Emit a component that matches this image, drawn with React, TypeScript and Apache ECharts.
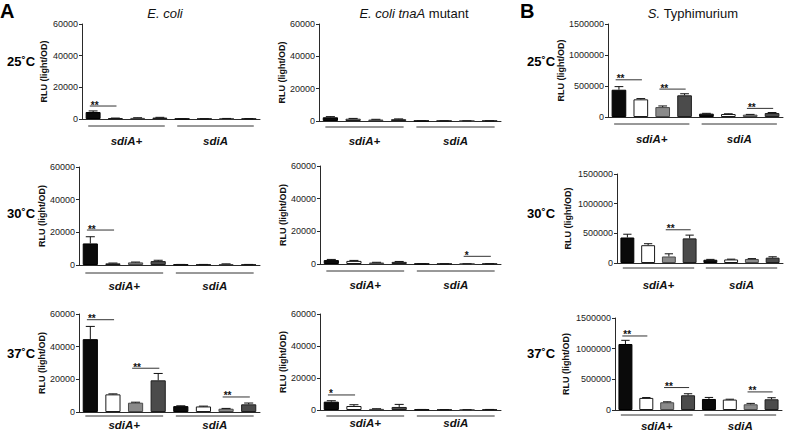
import React, { useEffect, useRef } from 'react';
import * as echarts from 'echarts';

// ---------- data ----------
const categories = ['sdiA+ 1', 'sdiA+ 2', 'sdiA+ 3', 'sdiA+ 4', 'sdiA 1', 'sdiA 2', 'sdiA 3', 'sdiA 4'];
const groupLabels = ['sdiA+', 'sdiA'];
const groupRanges = [[0, 3], [4, 7]];
const tempLabels = ['25˚C', '30˚C', '37˚C'];
const yAxisTitle = 'RLU (light/OD)';

const ecoliMax = 60000;
const ecoliStep = 20000;
const stMax = 1500000;
const stStep = 500000;

const ecoli25 = [4400, 500, 700, 900, 150, 150, 300, 200];
const ecoli25Err = [700, 100, 100, 150, 50, 50, 50, 50];
const ecoli30 = [13200, 1000, 1600, 2400, 300, 300, 600, 300];
const ecoli30Err = [4100, 200, 200, 500, 50, 50, 100, 50];
const ecoli37 = [44600, 10800, 5700, 19400, 3600, 3400, 2000, 4700];
const ecoli37Err = [7800, 300, 300, 4200, 200, 200, 200, 800];

const tnaA25 = [2300, 1400, 900, 1100, 100, 80, 80, 100];
const tnaA25Err = [400, 200, 150, 200, 30, 30, 30, 30];
const tnaA30 = [2400, 1900, 900, 1300, 150, 100, 100, 150];
const tnaA30Err = [400, 300, 150, 250, 30, 30, 30, 30];
const tnaA37 = [5200, 2500, 700, 1900, 300, 200, 150, 300];
const tnaA37Err = [600, 800, 100, 1600, 50, 50, 50, 50];

const st25 = [440000, 285000, 160000, 350000, 54000, 48000, 38000, 64000];
const st25Err = [50000, 12000, 18000, 25000, 5000, 4000, 4000, 8000];
const st30 = [430000, 300000, 110000, 415000, 55000, 60000, 68000, 90000];
const st30Err = [55000, 25000, 45000, 55000, 6000, 5000, 6000, 15000];
const st37 = [1076000, 197000, 126000, 240000, 180000, 170000, 93000, 175000];
const st37Err = [60000, 6000, 8000, 25000, 25000, 6000, 15000, 25000];

// significance brackets: [fromCategory, toCategory, value]
const ecoli25Sig = [[0, 1, 8200]];
const ecoli25SigText = ['**'];
const ecoli30Sig = [[0, 1, 21400]];
const ecoli30SigText = ['**'];
const ecoli37Sig = [[0, 1, 56500], [2, 3, 26800], [6, 7, 9200]];
const ecoli37SigText = ['**', '**', '**'];
const tnaA25Sig: number[][] = [];
const tnaA25SigText: string[] = [];
const tnaA30Sig = [[6, 7, 4700]];
const tnaA30SigText = ['*'];
const tnaA37Sig = [[0, 1, 9400]];
const tnaA37SigText = ['*'];
const st25Sig = [[0, 1, 600000], [2, 3, 450000], [6, 7, 139000]];
const st25SigText = ['**', '**', '**'];
const st30Sig = [[2, 3, 560000]];
const st30SigText = ['**'];
const st37Sig = [[0, 1, 1207000], [2, 3, 366000], [6, 7, 295000]];
const st37SigText = ['**', '**', '**'];

// ---------- styles / layout ----------
const FONT = '"Liberation Sans", Arial, Helvetica, sans-serif';
const INK = '#111111';
const barStyles = [
  { color: '#0a0a0a', borderColor: '#000000' },
  { color: '#ffffff', borderColor: '#1a1a1a' },
  { color: '#8a8a8a', borderColor: '#4a4a4a' },
  { color: '#4b4b4b', borderColor: '#1e1e1e' },
];

const panels = [
  { v: ecoli25, e: ecoli25Err, s: ecoli25Sig, st: ecoli25SigText, max: ecoliMax, step: ecoliStep, left: 82, width: 178, top: 24, height: 95, gap: 34, lineOff: 7, labelOff: 22 },
  { v: ecoli30, e: ecoli30Err, s: ecoli30Sig, st: ecoli30SigText, max: ecoliMax, step: ecoliStep, left: 79, width: 181, top: 167, height: 98, gap: 32, lineOff: 8, labelOff: 21 },
  { v: ecoli37, e: ecoli37Err, s: ecoli37Sig, st: ecoli37SigText, max: ecoliMax, step: ecoliStep, left: 79, width: 181, top: 314, height: 98, gap: 32, lineOff: 4, labelOff: 13 },
  { v: tnaA25, e: tnaA25Err, s: tnaA25Sig, st: tnaA25SigText, max: ecoliMax, step: ecoliStep, left: 319, width: 182, top: 24, height: 97, gap: 32, lineOff: 6, labelOff: 20 },
  { v: tnaA30, e: tnaA30Err, s: tnaA30Sig, st: tnaA30SigText, max: ecoliMax, step: ecoliStep, left: 320, width: 181, top: 166, height: 98, gap: 33, lineOff: 7, labelOff: 21 },
  { v: tnaA37, e: tnaA37Err, s: tnaA37Sig, st: tnaA37SigText, max: ecoliMax, step: ecoliStep, left: 320, width: 181, top: 314, height: 96, gap: 33, lineOff: 6, labelOff: 13 },
  { v: st25, e: st25Err, s: st25Sig, st: st25SigText, max: stMax, step: stStep, left: 608, width: 175, top: 24, height: 93, gap: 38, lineOff: 7, labelOff: 22 },
  { v: st30, e: st30Err, s: st30Sig, st: st30SigText, max: stMax, step: stStep, left: 617, width: 166, top: 174, height: 89, gap: 45, lineOff: 5, labelOff: 22 },
  { v: st37, e: st37Err, s: st37Sig, st: st37SigText, max: stMax, step: stStep, left: 615, width: 167, top: 318, height: 92, gap: 45, lineOff: 5, labelOff: 16 },
];

function textStyle(extra: any) {
  return { fontFamily: FONT, fill: INK, stroke: 'none', lineWidth: 0, ...extra };
}

function buildOption() {
  const grid: any[] = [];
  const xAxis: any[] = [];
  const yAxis: any[] = [];
  const series: any[] = [];

  panels.forEach((p, k) => {
    grid.push({ left: p.left, top: p.top, width: p.width, height: p.height, containLabel: false });
    xAxis.push({
      type: 'category', gridIndex: k, data: categories,
      axisTick: { show: false }, axisLabel: { show: false },
      axisLine: { lineStyle: { color: '#2a2a2a', width: 1 } },
    });
    yAxis.push({
      type: 'value', gridIndex: k, min: 0, max: p.max, interval: p.step,
      splitLine: { show: false },
      axisLine: { show: true, lineStyle: { color: '#2a2a2a', width: 1 } },
      axisTick: { show: true, length: 3, lineStyle: { color: '#2a2a2a' } },
      axisLabel: { fontSize: 9, color: '#222', fontFamily: FONT, margin: 4, formatter: (val: number) => String(val) },
      name: yAxisTitle, nameLocation: 'middle', nameRotate: 90, nameGap: p.gap,
      nameTextStyle: { fontSize: 9, fontWeight: 'bold', color: INK, fontFamily: FONT },
    });
    // bars
    series.push({
      type: 'bar', xAxisIndex: k, yAxisIndex: k, barWidth: '67%',
      data: p.v.map((val, i) => ({ value: val, itemStyle: { ...barStyles[i % 4], borderWidth: 1 } })),
    });
    // error bars (mean + SEM, upper only)
    series.push({
      type: 'custom', xAxisIndex: k, yAxisIndex: k, clip: false, z: 3, color: INK,
      encode: { x: 0, y: [1, 2] },
      data: p.v.map((val, i) => [i, val, val + p.e[i]]),
      renderItem: (params: any, api: any) => {
        const i = api.value(0);
        const base = api.coord([i, api.value(1)]);
        const top = api.coord([i, api.value(2)]);
        const band = api.size([1, 0])[0];
        const half = band * 0.2;
        return {
          type: 'group',
          children: [
            { type: 'line', shape: { x1: base[0], y1: base[1], x2: top[0], y2: top[1] }, style: { stroke: INK, lineWidth: 1 } },
            { type: 'line', shape: { x1: top[0] - half, y1: top[1], x2: top[0] + half, y2: top[1] }, style: { stroke: INK, lineWidth: 1 } },
          ],
        };
      },
    });
    // significance brackets
    if (p.s.length) {
      const texts = p.st;
      series.push({
        type: 'custom', xAxisIndex: k, yAxisIndex: k, clip: false, z: 4, color: INK,
        encode: { x: [0, 1], y: 2 },
        data: p.s,
        renderItem: (params: any, api: any) => {
          const a = api.coord([api.value(0), api.value(2)]);
          const b = api.coord([api.value(1), api.value(2)]);
          const band = api.size([1, 0])[0];
          const x1 = a[0] - band * 0.15;
          const x2 = b[0] + band * 0.05;
          return {
            type: 'group',
            children: [
              { type: 'line', shape: { x1, y1: a[1], x2, y2: a[1] }, style: { stroke: '#333', lineWidth: 1 } },
              {
                type: 'text', x: x1 + 1, y: a[1] - 1,
                style: textStyle({ text: texts[params.dataIndex], fontSize: 10, fontWeight: 'bold', align: 'left', verticalAlign: 'middle' }),
              },
            ],
          };
        },
      });
    }
    // group underlines and labels
    series.push({
      type: 'custom', xAxisIndex: k, yAxisIndex: k, clip: false, z: 2, silent: true, color: INK,
      encode: { x: [0, 1], y: 2 },
      data: groupRanges.map((r) => [r[0], r[1], 0]),
      renderItem: (params: any, api: any) => {
        const a = api.coord([api.value(0), 0]);
        const b = api.coord([api.value(1), 0]);
        const band = api.size([1, 0])[0];
        const x1 = a[0] - band * 0.22;
        const x2 = b[0] + band * 0.22;
        const y = a[1] + p.lineOff;
        return {
          type: 'group',
          children: [
            { type: 'line', shape: { x1, y1: y, x2, y2: y }, style: { stroke: '#333', lineWidth: 1 } },
            {
              type: 'text', x: (x1 + x2) / 2, y: a[1] + p.labelOff,
              style: textStyle({ text: groupLabels[params.dataIndex], fontSize: 11.5, fontWeight: 'bold', fontStyle: 'italic', align: 'center', verticalAlign: 'middle' }),
            },
          ],
        };
      },
    });
  });

  const rowY = [61, 213, 353];
  const graphic: any[] = [
    { type: 'text', x: 0, y: 1, style: textStyle({ text: 'A', fontSize: 20, fontWeight: 'bold', fill: '#000' }) },
    { type: 'text', x: 520, y: 1, style: textStyle({ text: 'B', fontSize: 20, fontWeight: 'bold', fill: '#000' }) },
    { type: 'text', x: 165, y: 13, style: textStyle({ text: 'E. coli', fontSize: 13, fontStyle: 'italic', align: 'center', verticalAlign: 'middle' }) },
    {
      type: 'text', x: 414, y: 13,
      style: textStyle({ text: '{i|E. coli tnaA} mutant', fontSize: 13, align: 'center', verticalAlign: 'middle', rich: { i: { fontStyle: 'italic', fontSize: 13, fontFamily: FONT, fill: INK } } }),
    },
    {
      type: 'text', x: 693, y: 13,
      style: textStyle({ text: '{i|S.} Typhimurium', fontSize: 13, align: 'center', verticalAlign: 'middle', rich: { i: { fontStyle: 'italic', fontSize: 13, fontFamily: FONT, fill: INK } } }),
    },
  ];
  tempLabels.forEach((t, r) => {
    graphic.push({ type: 'text', x: 7, y: rowY[r], style: textStyle({ text: t, fontSize: 13, fontWeight: 'bold', fill: '#000', verticalAlign: 'middle' }) });
    graphic.push({ type: 'text', x: 527, y: rowY[r], style: textStyle({ text: t, fontSize: 13, fontWeight: 'bold', fill: '#000', verticalAlign: 'middle' }) });
  });

  return {
    animation: false,
    backgroundColor: '#ffffff',
    textStyle: { fontFamily: FONT },
    grid, xAxis, yAxis, series, graphic,
  };
}

export default function App() {
  const ref = useRef<HTMLDivElement>(null);
  useEffect(() => {
    document.body.style.margin = '0';
    if (!ref.current) return;
    const chart = echarts.init(ref.current, undefined, { renderer: 'svg' });
    chart.setOption(buildOption() as any);
    return () => chart.dispose();
  }, []);
  return <div ref={ref} style={{ width: 785, height: 438 }} />;
}
